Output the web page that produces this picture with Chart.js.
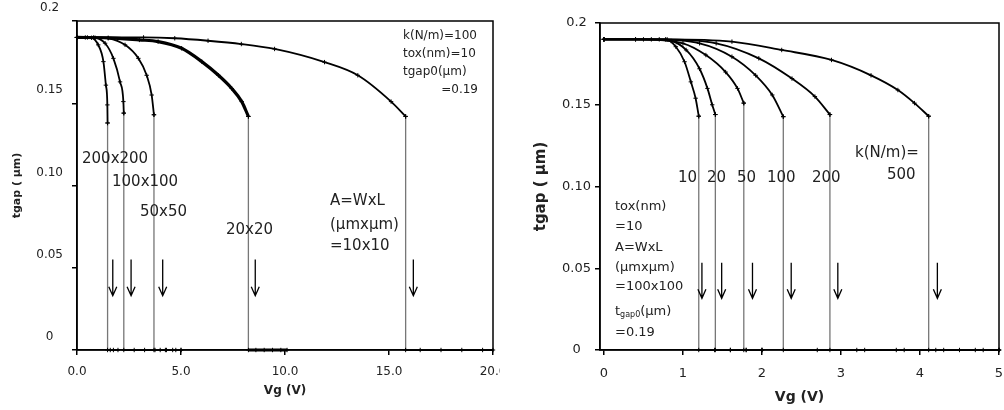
<!DOCTYPE html>
<html>
<head>
<meta charset="utf-8">
<script src="https://cdn.jsdelivr.net/npm/chart.js@4"></script>
<style>
  body { margin:0; background:#fff; }
  #wrap { position:relative; width:1004px; height:410px; }
  canvas { position:absolute; top:0; }
</style>
</head>
<body>
<div id="wrap">
  <canvas id="left" width="500" height="410" style="left:0px"></canvas>
  <canvas id="right" width="504" height="410" style="left:500px"></canvas>
</div>
<script>
// ---- left panel: k=100 N/m, tox=10 nm, tgap0=0.19 um, varying area ----
var area_names = ['200x200', '100x100', '50x50', '20x20', '10x10'];
var vg_a200 = [0, 0.4, 0.7, 1.02, 1.27, 1.39, 1.46, 1.47, 1.47, 1.6, 1.75, 1.97];
var tg_a200 = [0.19, 0.19, 0.1898, 0.1855, 0.1753, 0.161, 0.149, 0.138, 0, 0, 0, 0];
var vg_a100 = [0, 0.5, 0.87, 1.35, 1.75, 2.07, 2.23, 2.25, 2.25, 2.75, 3.25, 3.75, 4.25, 4.75, 5.0];
var tg_a100 = [0.19, 0.19, 0.1898, 0.1865, 0.1773, 0.163, 0.151, 0.144, 0, 0, 0, 0, 0, 0, 0];
var vg_a50 = [0, 0.8, 1.5, 2.31, 2.95, 3.35, 3.59, 3.70, 3.70, 4.0, 4.3, 4.6, 5.0];
var tg_a50 = [0.19, 0.19, 0.1895, 0.1855, 0.1773, 0.167, 0.155, 0.143, 0, 0, 0, 0, 0];
var vg_a20 = [0, 1.5, 3.0, 3.9, 5.03, 6.0, 6.8, 7.44, 7.92, 8.24, 8.24, 8.6, 9.0, 9.4, 9.8, 10.1];
var tg_a20 = [0.19, 0.1898, 0.1885, 0.1875, 0.1834, 0.1753, 0.167, 0.159, 0.151, 0.142, 0, 0, 0, 0, 0, 0];
var vg_a10 = [0, 3.2, 4.7, 6.3, 7.9, 9.5, 11.9, 13.5, 15.1, 15.8, 15.8, 16.5, 17.5, 18.5, 19.5, 20];
var tg_a10 = [0.19, 0.19, 0.1895, 0.188, 0.186, 0.183, 0.175, 0.167, 0.151, 0.142, 0, 0, 0, 0, 0, 0];
var left_arrow_vg = [1.72, 2.6, 4.12, 8.57, 16.17];
var left_x_ticks = [0, 5, 10, 15, 20];

// ---- right panel: A=100x100, varying k (N/m) ----
var k_names = ['10', '20', '50', '100', '200', '500'];
var vg_k10 = [0, 0.4, 0.78, 0.91, 1.02, 1.10, 1.16, 1.2, 1.2, 1.4, 1.6, 1.8, 2.0];
var tg_k10 = [0.19, 0.19, 0.19, 0.1855, 0.1763, 0.164, 0.154, 0.143, 0, 0, 0, 0, 0];
var vg_k20 = [0, 0.4, 0.85, 1.04, 1.21, 1.31, 1.37, 1.41, 1.41, 1.6, 1.8, 2.0];
var tg_k20 = [0.19, 0.19, 0.189, 0.1835, 0.172, 0.160, 0.150, 0.144, 0, 0, 0, 0];
var vg_k50 = [0, 0.5, 1.0, 1.29, 1.54, 1.69, 1.77, 1.77, 2.0];
var tg_k50 = [0.19, 0.19, 0.1876, 0.1804, 0.170, 0.160, 0.151, 0, 0];
var vg_k100 = [0, 0.6, 1.21, 1.62, 1.92, 2.13, 2.27, 2.27, 2.7, 3.2, 3.7, 4.2, 4.7, 5.0];
var tg_k100 = [0.19, 0.19, 0.1876, 0.1794, 0.168, 0.156, 0.1427, 0, 0, 0, 0, 0, 0, 0];
var vg_k200 = [0, 0.7, 1.42, 1.96, 2.38, 2.67, 2.86, 2.86, 3.3, 3.8, 4.3, 4.8, 5.0];
var tg_k200 = [0.19, 0.19, 0.1876, 0.1784, 0.166, 0.155, 0.144, 0, 0, 0, 0, 0, 0];
var vg_k500 = [0, 0.8, 1.62, 2.25, 2.88, 3.38, 3.72, 3.93, 4.11, 4.11, 4.5, 5.0];
var tg_k500 = [0.19, 0.19, 0.1886, 0.1835, 0.1774, 0.168, 0.159, 0.151, 0.143, 0, 0, 0];
var right_arrow_vg = [1.24, 1.49, 1.88, 2.37, 2.96, 4.22];
var right_x_ticks = [0, 1, 2, 3, 4, 5];
var y_ticks = [0, 0.05, 0.1, 0.15, 0.2];

Chart.defaults.font.family = "'DejaVu Sans', sans-serif";
Chart.defaults.color = '#222';

function pts(xs, ys){
    return xs.map(function(v, i){ return {x: v, y: ys[i]}; });
}
// each curve = smooth bending part + vertical pull-in drop and the collapsed part on the axis
function curve(name, xs, ys, width){
    var all = pts(xs, ys);
    var cut = ys.indexOf(0) - 1;
    var common = {
        showLine: true,
        borderColor: '#000',
        pointStyle: 'cross',
        pointRadius: 2.2,
        pointBorderWidth: 1,
        pointBorderColor: '#000',
        clip: 5
    };
    var bend = Object.assign({}, common, {
        label: name,
        data: all.slice(0, cut + 1),
        borderWidth: width || 1.8,
        cubicInterpolationMode: 'monotone'
    });
    var drop = Object.assign({}, common, {
        label: name + ' pull-in',
        data: all.slice(cut),
        borderWidth: width || 1.8,
        tension: 0,
        segment: {
            borderColor: function(c){ return c.p0.parsed.x === c.p1.parsed.x ? '#777' : undefined; },
            borderWidth: function(c){ return c.p0.parsed.x === c.p1.parsed.x ? 1.3 : undefined; }
        }
    });
    return [bend, drop];
}
function ytick_label(v){
    var r = Math.round(v * 100) / 100;
    if (r === 0) return '0';
    if (r === 0.2) return '0.2';
    return r.toFixed(2);
}
function fixX(s){ s.height = 60; s.paddingLeft = 0; s.paddingRight = 0; }

// frame, arrows and text notes
var notesPlugin = {
    id: 'notes',
    afterDatasetsDraw: function(chart, args, opts){
        var ctx = chart.ctx, a = chart.chartArea;
        var xs = chart.scales.x, ys = chart.scales.y;
        ctx.save();
        ctx.strokeStyle = '#000';
        ctx.lineWidth = 1.5;
        ctx.strokeRect(a.left, a.top, a.right - a.left, a.bottom - a.top);
        // arrows
        ctx.lineWidth = 1.3;
        opts.arrows.forEach(function(v){
            var x = xs.getPixelForValue(v);
            var y0 = ys.getPixelForValue(opts.arrowTop), y1 = ys.getPixelForValue(opts.arrowBottom);
            ctx.beginPath();
            ctx.moveTo(x, y0); ctx.lineTo(x, y1);
            ctx.moveTo(x - 4, y1 - 9); ctx.lineTo(x, y1); ctx.lineTo(x + 4, y1 - 9);
            ctx.stroke();
        });
        // texts
        ctx.fillStyle = '#222';
        ctx.textBaseline = 'middle';
        opts.texts.forEach(function(t){
            ctx.font = (t.bold ? 'bold ' : '') + t.size + "px 'DejaVu Sans'";
            ctx.textAlign = t.align || 'left';
            ctx.fillText(t.text, t.x, t.y);
            if (t.sub) {
                var w = ctx.measureText(t.text).width;
                ctx.font = Math.round(t.size * 0.6) + "px 'DejaVu Sans'";
                ctx.fillText(t.sub, t.x + w, t.y + 3);
                var w2 = ctx.measureText(t.sub).width;
                ctx.font = t.size + "px 'DejaVu Sans'";
                ctx.fillText(t.rest, t.x + w + w2, t.y);
            }
        });
        ctx.restore();
    }
};

new Chart(document.getElementById('left'), {
    type: 'scatter',
    data: {
        datasets: [].concat(
            curve(area_names[0], vg_a200, tg_a200),
            curve(area_names[1], vg_a100, tg_a100),
            curve(area_names[2], vg_a50, tg_a50),
            curve(area_names[3], vg_a20, tg_a20, 3.2),
            curve(area_names[4], vg_a10, tg_a10)
        )
    },
    options: {
        responsive: false,
        animation: false,
        layout: { padding: { top: 21, right: 7, left: 0, bottom: 0 } },
        plugins: {
            legend: { display: false },
            tooltip: { enabled: false },
            notes: {
                arrows: left_arrow_vg, arrowTop: 0.055, arrowBottom: 0.033,
                texts: [
                    { text: '200x200', x: 82, y: 159, size: 15 },
                    { text: '100x100', x: 112, y: 182, size: 15 },
                    { text: '50x50', x: 140, y: 212, size: 15 },
                    { text: '20x20', x: 226, y: 230, size: 15 },
                    { text: 'A=WxL', x: 330, y: 201, size: 15 },
                    { text: '(\u00b5mx\u00b5m)', x: 330, y: 225, size: 15 },
                    { text: '=10x10', x: 330, y: 246, size: 15 },
                    { text: 'k(N/m)=100', x: 403, y: 36, size: 12 },
                    { text: 'tox(nm)=10', x: 403, y: 54, size: 12 },
                    { text: 'tgap0(\u00b5m)', x: 403, y: 72, size: 12 },
                    { text: '=0.19', x: 478, y: 90, size: 12, align: 'right' }
                ]
            }
        },
        scales: {
            x: {
                type: 'linear', min: 0, max: 20,
                afterFit: fixX,
                afterBuildTicks: function(s){ s.ticks = left_x_ticks.map(function(v){ return {value: v}; }); },
                grid: { drawOnChartArea: false, drawTicks: true, tickLength: 5, color: '#000', lineWidth: 1.5 },
                border: { color: '#000', width: 1.5 },
                ticks: { padding: 10, font: { size: 12 }, color: '#222', callback: function(v){ return Number(v).toFixed(1); } },
                title: { display: true, text: 'Vg (V)', font: { size: 12, weight: 'bold' }, color: '#222', padding: { top: 0, bottom: 12 } }
            },
            y: {
                type: 'linear', min: 0, max: 0.2,
                afterFit: function(s){ s.width = 77; s.paddingTop = 0; s.paddingBottom = 0; },
                afterBuildTicks: function(s){ s.ticks = y_ticks.map(function(v){ return {value: v}; }); },
                grid: { drawOnChartArea: false, drawTicks: true, tickLength: 5, color: '#000', lineWidth: 1.5 },
                border: { color: '#000', width: 1.5 },
                ticks: { padding: 9, labelOffset: -13, crossAlign: 'center', font: { size: 12 }, color: '#222', callback: ytick_label },
                title: { display: true, text: 'tgap ( \u00b5m)', font: { size: 11, weight: 'bold' }, color: '#222', padding: { top: 11, bottom: 0 } }
            }
        }
    },
    plugins: [notesPlugin]
});

new Chart(document.getElementById('right'), {
    type: 'scatter',
    data: {
        datasets: [].concat(
            curve(k_names[0], vg_k10, tg_k10),
            curve(k_names[1], vg_k20, tg_k20),
            curve(k_names[2], vg_k50, tg_k50),
            curve(k_names[3], vg_k100, tg_k100),
            curve(k_names[4], vg_k200, tg_k200),
            curve(k_names[5], vg_k500, tg_k500)
        )
    },
    options: {
        responsive: false,
        animation: false,
        layout: { padding: { top: 23, right: 2, left: 0, bottom: 0 } },
        plugins: {
            legend: { display: false },
            tooltip: { enabled: false },
            notes: {
                arrows: right_arrow_vg, arrowTop: 0.0534, arrowBottom: 0.0316,
                texts: [
                    { text: '10', x: 178, y: 178, size: 15 },
                    { text: '20', x: 207, y: 178, size: 15 },
                    { text: '50', x: 237, y: 178, size: 15 },
                    { text: '100', x: 267, y: 178, size: 15 },
                    { text: '200', x: 312, y: 178, size: 15 },
                    { text: 'k(N/m)=', x: 355, y: 153, size: 15 },
                    { text: '500', x: 387, y: 175, size: 15 },
                    { text: 'tox(nm)', x: 115, y: 207, size: 13 },
                    { text: '=10', x: 115, y: 227, size: 13 },
                    { text: 'A=WxL', x: 115, y: 248, size: 13 },
                    { text: '(\u00b5mx\u00b5m)', x: 115, y: 268, size: 13 },
                    { text: '=100x100', x: 115, y: 287, size: 13 },
                    { text: 't', sub: 'gap0', rest: '(\u00b5m)', x: 115, y: 312, size: 13 },
                    { text: '=0.19', x: 115, y: 333, size: 13 }
                ]
            }
        },
        scales: {
            x: {
                type: 'linear', min: -0.05, max: 5,
                afterFit: fixX,
                afterBuildTicks: function(s){ s.ticks = right_x_ticks.map(function(v){ return {value: v}; }); },
                grid: { drawOnChartArea: false, drawTicks: true, tickLength: 5, color: '#000', lineWidth: 1.5 },
                border: { color: '#000', width: 1.5 },
                ticks: { padding: 11, font: { size: 13 }, color: '#222', callback: function(v){ return String(Math.round(v)); } },
                title: { display: true, text: 'Vg (V)', font: { size: 14, weight: 'bold' }, color: '#222', padding: { top: 0, bottom: 4 } }
            },
            y: {
                type: 'linear', min: 0, max: 0.2,
                afterFit: function(s){ s.width = 100; s.paddingTop = 0; s.paddingBottom = 0; },
                afterBuildTicks: function(s){ s.ticks = y_ticks.map(function(v){ return {value: v}; }); },
                grid: { drawOnChartArea: false, drawTicks: true, tickLength: 5, color: '#000', lineWidth: 1.5 },
                border: { color: '#000', width: 1.5 },
                ticks: { padding: 4, crossAlign: 'center', font: { size: 13 }, color: '#222', callback: ytick_label },
                title: { display: true, text: 'tgap ( \u00b5m)', font: { size: 15, weight: 'bold' }, color: '#222', padding: { top: 32, bottom: 0 } }
            }
        }
    },
    plugins: [notesPlugin]
});
</script>
</body>
</html>
